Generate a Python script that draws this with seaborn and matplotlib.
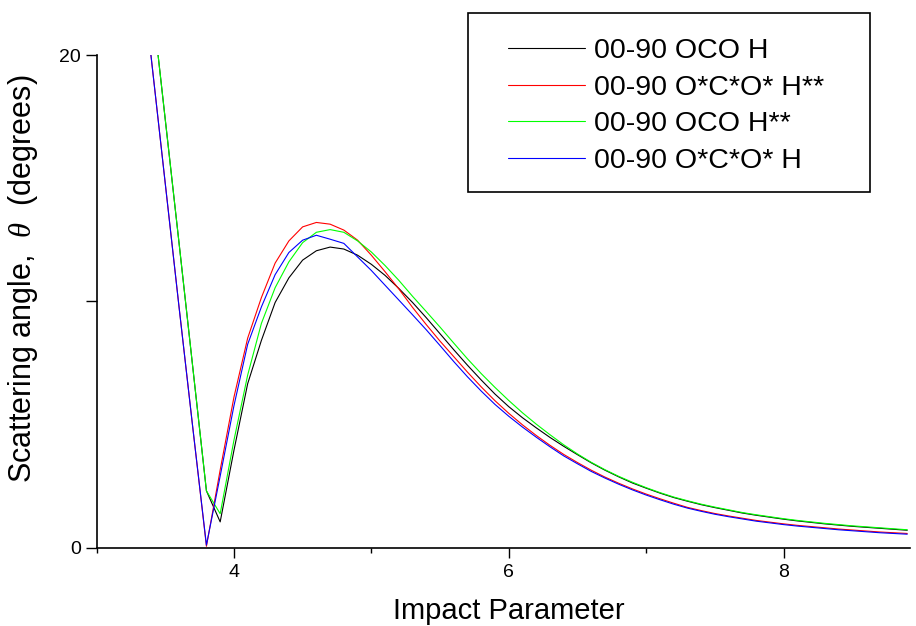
import numpy as np
import pandas as pd
import matplotlib
matplotlib.use("Agg")
import matplotlib.pyplot as plt
from matplotlib.patches import Rectangle
import seaborn as sns

# impact parameter grid
impact = [3.3, 3.4, 3.5, 3.6, 3.7, 3.8, 3.9, 4.0, 4.1, 4.2,
          4.3, 4.4, 4.5, 4.6, 4.7, 4.8, 4.9, 5.0, 5.1, 5.2,
          5.3, 5.4, 5.5, 5.6, 5.7, 5.8, 5.9, 6.0, 6.1, 6.2,
          6.3, 6.4, 6.5, 6.6, 6.7, 6.8, 6.9, 7.0, 7.1, 7.2,
          7.3, 7.4, 7.5, 7.6, 7.7, 7.8, 7.9, 8.0, 8.1, 8.2,
          8.3, 8.4, 8.5, 8.6, 8.7, 8.8, 8.9]

oco_h = [27.4, 22.4, 17.4, 12.4, 7.35, 2.3, 1.04, 3.94, 6.65, 8.41,
         9.95, 10.95, 11.67, 12.05, 12.2, 12.12, 11.87, 11.5, 11.05, 10.52,
         9.95, 9.33, 8.68, 8.03, 7.4, 6.8, 6.23, 5.72, 5.27, 4.86,
         4.47, 4.11, 3.77, 3.44, 3.14, 2.87, 2.62, 2.41, 2.21, 2.03,
         1.88, 1.74, 1.62, 1.51, 1.4, 1.31, 1.23, 1.15, 1.08, 1.02,
         0.96, 0.91, 0.86, 0.82, 0.78, 0.74, 0.7]

ocostar_hstar = [24.8, 19.8, 14.8, 9.8, 4.9, 0.05, 3.15, 6.1, 8.5, 10.15,
                 11.55, 12.45, 13.02, 13.2, 13.13, 12.89, 12.48, 11.87, 11.2, 10.5,
                 9.75, 9.05, 8.38, 7.75, 7.12, 6.52, 5.96, 5.45, 4.98, 4.55,
                 4.15, 3.78, 3.45, 3.14, 2.86, 2.61, 2.38, 2.17, 1.98, 1.8,
                 1.63, 1.5, 1.38, 1.28, 1.19, 1.1, 1.03, 0.96, 0.9, 0.85,
                 0.8, 0.75, 0.71, 0.67, 0.63, 0.6, 0.57]

oco_hstar = [27.4, 22.4, 17.4, 12.4, 7.35, 2.3, 1.37, 4.35, 7.0, 9.1,
             10.55, 11.6, 12.38, 12.8, 12.91, 12.8, 12.45, 12.0, 11.45, 10.85,
             10.2, 9.58, 8.95, 8.3, 7.66, 7.06, 6.5, 5.97, 5.47, 5.01,
             4.58, 4.17, 3.8, 3.46, 3.16, 2.89, 2.65, 2.43, 2.23, 2.05,
             1.9, 1.76, 1.64, 1.53, 1.42, 1.33, 1.25, 1.17, 1.1, 1.04,
             0.98, 0.93, 0.88, 0.84, 0.8, 0.76, 0.72]

ocostar_h = [24.8, 19.8, 14.8, 9.8, 4.9, 0.1, 2.9, 5.75, 8.25, 9.77,
             11.08, 11.98, 12.48, 12.68, 12.52, 12.35, 11.8, 11.25, 10.65, 10.05,
             9.45, 8.84, 8.2, 7.55, 6.93, 6.35, 5.81, 5.33, 4.89, 4.48,
             4.09, 3.72, 3.4, 3.09, 2.82, 2.57, 2.34, 2.13, 1.94, 1.76,
             1.6, 1.47, 1.35, 1.25, 1.16, 1.07, 1.0, 0.93, 0.87, 0.82,
             0.77, 0.72, 0.68, 0.64, 0.6, 0.57, 0.54]

series_names = ["00-90 OCO H", "00-90 O*C*O* H**", "00-90 OCO H**", "00-90 O*C*O* H"]
series_values = [oco_h, ocostar_hstar, oco_hstar, ocostar_h]
series_colors = ["#000000", "#ff0000", "#00ff00", "#0000ff"]

frames = []
for name, vals in zip(series_names, series_values):
    frames.append(pd.DataFrame({"impact": impact, "angle": vals, "series": name}))
df = pd.concat(frames, ignore_index=True)

sns.set_style("ticks")
plt.rcParams["font.family"] = ["Liberation Sans", "DejaVu Sans"]
plt.rcParams["text.color"] = "black"
plt.rcParams["axes.labelcolor"] = "black"
plt.rcParams["xtick.color"] = "black"
plt.rcParams["ytick.color"] = "black"
plt.rcParams["mathtext.fontset"] = "custom"
plt.rcParams["mathtext.it"] = "Liberation Serif:italic"

fig = plt.figure(figsize=(9.16, 6.26), dpi=100)
ax = fig.add_axes([96.5 / 916, 1 - 547.5 / 626, (910 - 96.5) / 916, (547.5 - 55) / 626])

sns.lineplot(data=df, x="impact", y="angle", hue="series", hue_order=series_names,
             palette=dict(zip(series_names, series_colors)), estimator=None,
             sort=False, linewidth=0.8, ax=ax, legend=True)

ax.set_xlim(3, 8.92)
ax.set_ylim(0, 20)
ax.set_xticks([4, 6, 8])
ax.set_xticks([3, 5, 7], minor=True)
ax.set_yticks([0, 10, 20])
ax.set_yticklabels(["0", "", "20"])
ax.tick_params(axis="x", which="major", length=7, width=1, labelsize=14, pad=5,
               color="black", labelcolor="black")
ax.tick_params(axis="x", which="minor", length=3.5, width=1, color="black")
ax.tick_params(axis="y", which="major", length=8, width=1, labelsize=14, pad=3,
               color="black", labelcolor="black")
for side in ["left", "bottom"]:
    ax.spines[side].set_linewidth(1.2)
    ax.spines[side].set_color("black")
sns.despine(ax=ax)

ax.set_xlabel("Impact Parameter", fontsize=21, color="black")
ax.set_ylabel(r"Scattering angle,  $\theta$  (degrees)", fontsize=22, color="black")
ax.xaxis.set_label_coords(0.507, -0.10)
ax.yaxis.set_label_coords(-0.069, 0.545)

# legend: box drawn by hand, entries placed inside it
handles, labels = ax.get_legend_handles_labels()
ax.get_legend().remove()
fig.patches.append(Rectangle((468 / 916, 1 - 192 / 626), (870 - 468) / 916, (192 - 13) / 626,
                             transform=fig.transFigure, fill=False, edgecolor="black", linewidth=1.2))
leg = fig.legend(handles, labels, loc="upper left", bbox_to_anchor=(494 / 916, 1 - 24 / 626),
                 frameon=False, fontsize=20.5, borderpad=0, handlelength=2.7,
                 handletextpad=0.3, labelspacing=0.37)
for line in leg.get_lines():
    line.set_linewidth(0.8)
for txt in leg.get_texts():
    txt.set_color("black")

fig.savefig("out.png", dpi=100)
